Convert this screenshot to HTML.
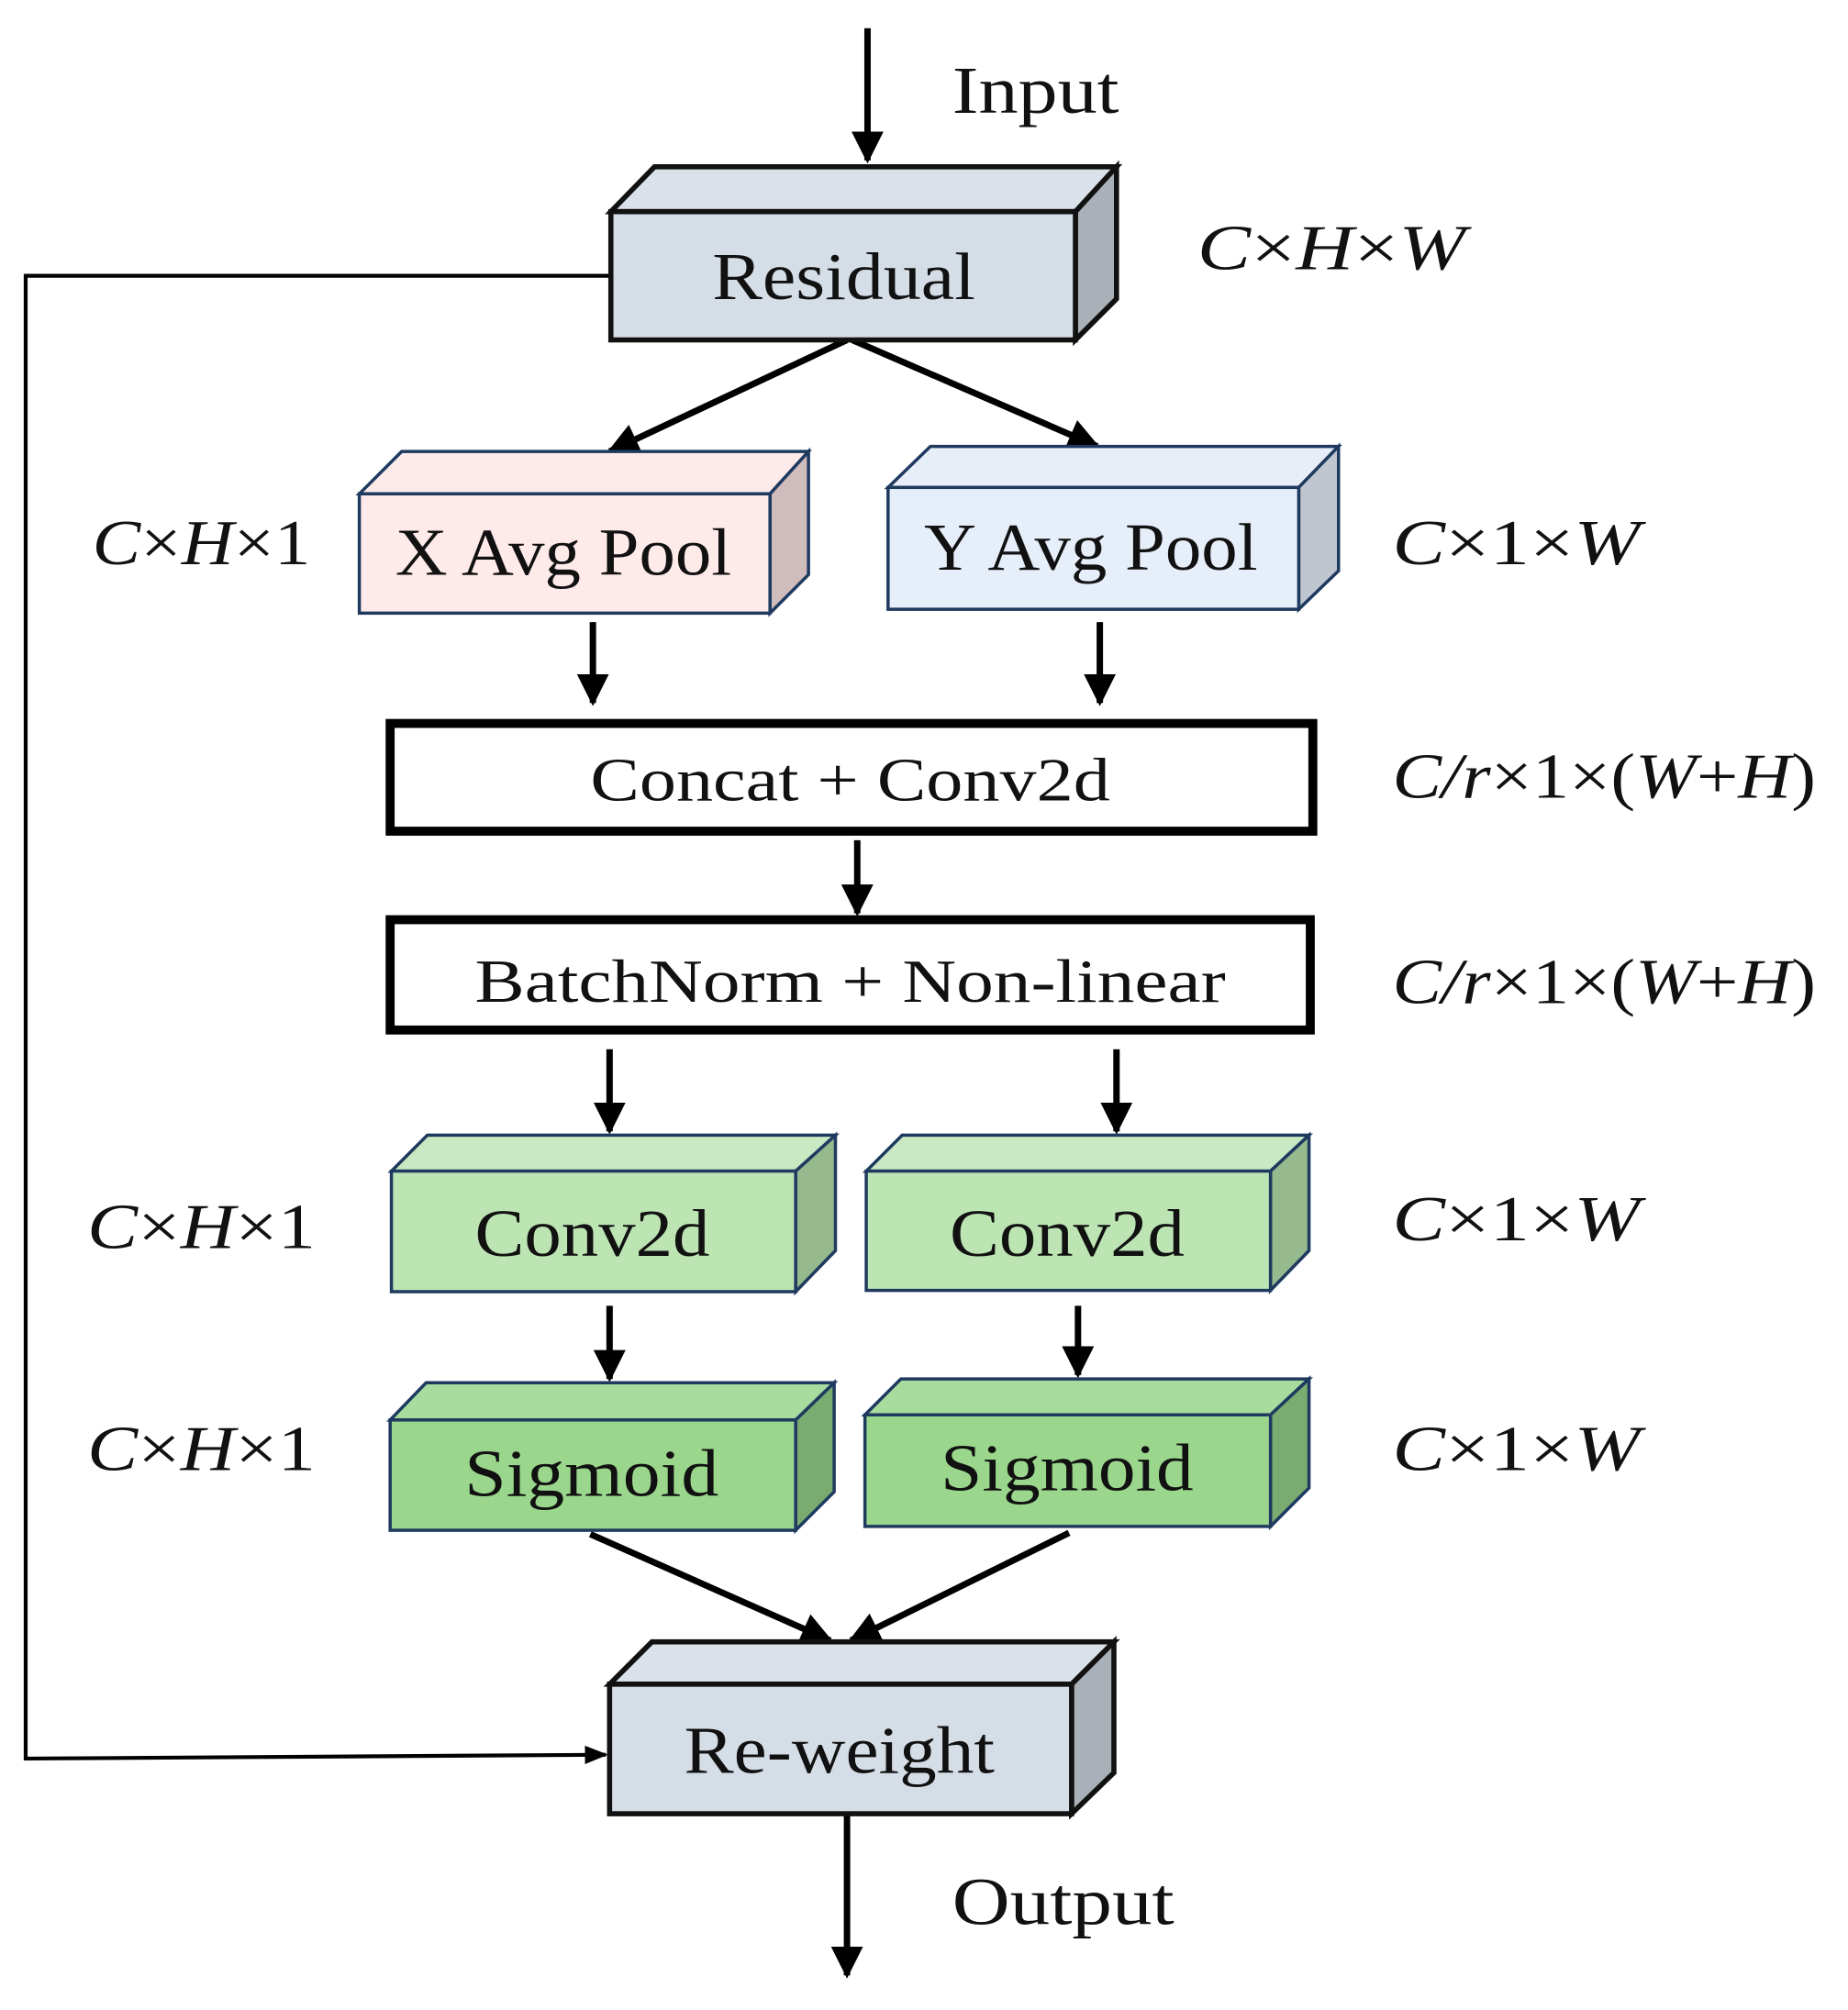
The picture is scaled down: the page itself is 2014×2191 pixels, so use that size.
<!DOCTYPE html>
<html><head><meta charset="utf-8"><style>html,body{margin:0;padding:0;background:#fff}svg{display:block}</style></head>
<body>
<svg width="2014" height="2191" viewBox="0 0 1440 1567" preserveAspectRatio="none" xmlns="http://www.w3.org/2000/svg" font-family="Liberation Serif, serif">
<defs>
<marker id="ah" viewBox="0 0 10 10" refX="9" refY="5" markerWidth="5" markerHeight="5" orient="auto" markerUnits="strokeWidth"><path d="M0,0 L10,5 L0,10 z" fill="#000"/></marker>
<marker id="ahs" viewBox="0 0 10 10" refX="9" refY="5" markerWidth="6" markerHeight="6" orient="auto" markerUnits="strokeWidth"><path d="M0,1 L10,5 L0,9 z" fill="#000"/></marker>
</defs>
<polyline points="476,215 20,215 20,1371 472,1368" fill="none" stroke="#000" stroke-width="3" marker-end="url(#ahs)"/>
<g stroke="#000" stroke-width="5" fill="none" marker-end="url(#ah)">
<line x1="676" y1="22" x2="676" y2="125"/>
<line x1="660" y1="265" x2="475" y2="352"/>
<line x1="664" y1="265" x2="855" y2="348"/>
<line x1="462" y1="485" x2="462" y2="548"/>
<line x1="857" y1="485" x2="857" y2="548"/>
<line x1="668" y1="655" x2="668" y2="712"/>
<line x1="475" y1="818" x2="475" y2="882"/>
<line x1="870" y1="818" x2="870" y2="882"/>
<line x1="475" y1="1018" x2="475" y2="1075"/>
<line x1="840" y1="1018" x2="840" y2="1072"/>
<line x1="460" y1="1196" x2="647" y2="1279"/>
<line x1="833" y1="1195" x2="663" y2="1279"/>
<line x1="660" y1="1414" x2="660" y2="1540"/>
</g>
<g stroke="#111" stroke-width="4" stroke-linejoin="miter">
<polygon points="476,165 510,130 870,130 838,165" fill="#dbe1e8"/>
<polygon points="838,165 870,130 870,233 838,265" fill="#a9b0b8"/>
<rect x="476" y="165" width="362" height="100" fill="#d5dde6"/>
</g>
<g stroke="#1f3a5f" stroke-width="2.5">
<polygon points="280,385 313,352 630,352 600,385" fill="#fdeaea"/>
<polygon points="600,385 630,352 630,448 600,478" fill="#d1bcbd"/>
<rect x="280" y="385" width="320" height="93" fill="#ffeaea"/>
</g>
<g stroke="#1f3a5f" stroke-width="2.5">
<polygon points="692,380 725,348 1043,348 1012,380" fill="#e8eef8"/>
<polygon points="1012,380 1043,348 1043,445 1012,475" fill="#c0c6d0"/>
<rect x="692" y="380" width="320" height="95" fill="#e6eefa"/>
</g>
<rect x="304" y="564" width="719" height="84" fill="#fff" stroke="#000" stroke-width="7"/>
<rect x="304" y="717" width="717" height="86" fill="#fff" stroke="#000" stroke-width="7"/>
<g stroke="#1f3a5f" stroke-width="2.5">
<polygon points="305,913 333,885 651,885 620,913" fill="#c9e9c3"/>
<polygon points="620,913 651,885 651,975 620,1007" fill="#97b98e"/>
<rect x="305" y="913" width="315" height="94" fill="#bde5b4"/>
<polygon points="675,913 703,885 1020,885 990,913" fill="#c9e9c3"/>
<polygon points="990,913 1020,885 1020,975 990,1006" fill="#97b98e"/>
<rect x="675" y="913" width="315" height="93" fill="#bde5b4"/>
</g>
<g stroke="#1f3a5f" stroke-width="2.5">
<polygon points="304,1107 332,1078 650,1078 620,1107" fill="#a8dc9e"/>
<polygon points="620,1107 650,1078 650,1163 620,1193" fill="#7aab70"/>
<rect x="304" y="1107" width="316" height="86" fill="#9ad78d"/>
<polygon points="674,1103 702,1075 1020,1075 990,1103" fill="#a8dc9e"/>
<polygon points="990,1103 1020,1075 1020,1160 990,1190" fill="#7aab70"/>
<rect x="674" y="1103" width="316" height="87" fill="#9ad78d"/>
</g>
<g stroke="#111" stroke-width="4">
<polygon points="475,1313 508,1280 868,1280 835,1313" fill="#dbe1e8"/>
<polygon points="835,1313 868,1280 868,1382 835,1414" fill="#a9b0b8"/>
<rect x="475" y="1313" width="360" height="101" fill="#d5dde6"/>
</g>
<g fill="#111" font-size="52">
<text x="555" y="233" textLength="205" lengthAdjust="spacingAndGlyphs">Residual</text>
<text x="308" y="448" textLength="262" lengthAdjust="spacingAndGlyphs">X Avg Pool</text>
<text x="720" y="444" textLength="260" lengthAdjust="spacingAndGlyphs">Y Avg Pool</text>
<text x="460" y="624" font-size="48" textLength="405" lengthAdjust="spacingAndGlyphs">Concat + Conv2d</text>
<text x="370" y="781" font-size="48" textLength="585" lengthAdjust="spacingAndGlyphs">BatchNorm + Non-linear</text>
<text x="370" y="979" textLength="183" lengthAdjust="spacingAndGlyphs">Conv2d</text>
<text x="740" y="979" textLength="183" lengthAdjust="spacingAndGlyphs">Conv2d</text>
<text x="362" y="1166" textLength="198" lengthAdjust="spacingAndGlyphs">Sigmoid</text>
<text x="733" y="1162" textLength="197" lengthAdjust="spacingAndGlyphs">Sigmoid</text>
<text x="533" y="1382" textLength="242" lengthAdjust="spacingAndGlyphs">Re-weight</text>
<text x="742" y="88" textLength="130" lengthAdjust="spacingAndGlyphs">Input</text>
<text x="742" y="1500" textLength="173" lengthAdjust="spacingAndGlyphs">Output</text>
</g>
<g fill="#111" font-size="50" font-style="italic">
<text x="933" y="210" textLength="209" lengthAdjust="spacingAndGlyphs">C<tspan font-style="normal">×</tspan>H<tspan font-style="normal">×</tspan>W</text>
<text x="72" y="440" textLength="170" lengthAdjust="spacingAndGlyphs">C<tspan font-style="normal">×</tspan>H<tspan font-style="normal">×1</tspan></text>
<text x="1085" y="440" textLength="193" lengthAdjust="spacingAndGlyphs">C<tspan font-style="normal">×1×</tspan>W</text>
<text x="1085" y="622" textLength="330" lengthAdjust="spacingAndGlyphs">C/r<tspan font-style="normal">×1×(</tspan>W<tspan font-style="normal">+</tspan>H<tspan font-style="normal">)</tspan></text>
<text x="1085" y="782" textLength="330" lengthAdjust="spacingAndGlyphs">C/r<tspan font-style="normal">×1×(</tspan>W<tspan font-style="normal">+</tspan>H<tspan font-style="normal">)</tspan></text>
<text x="68" y="973" textLength="178" lengthAdjust="spacingAndGlyphs">C<tspan font-style="normal">×</tspan>H<tspan font-style="normal">×1</tspan></text>
<text x="1085" y="967" textLength="193" lengthAdjust="spacingAndGlyphs">C<tspan font-style="normal">×1×</tspan>W</text>
<text x="68" y="1146" textLength="178" lengthAdjust="spacingAndGlyphs">C<tspan font-style="normal">×</tspan>H<tspan font-style="normal">×1</tspan></text>
<text x="1085" y="1146" textLength="193" lengthAdjust="spacingAndGlyphs">C<tspan font-style="normal">×1×</tspan>W</text>
</g>
</svg>
</body></html>
